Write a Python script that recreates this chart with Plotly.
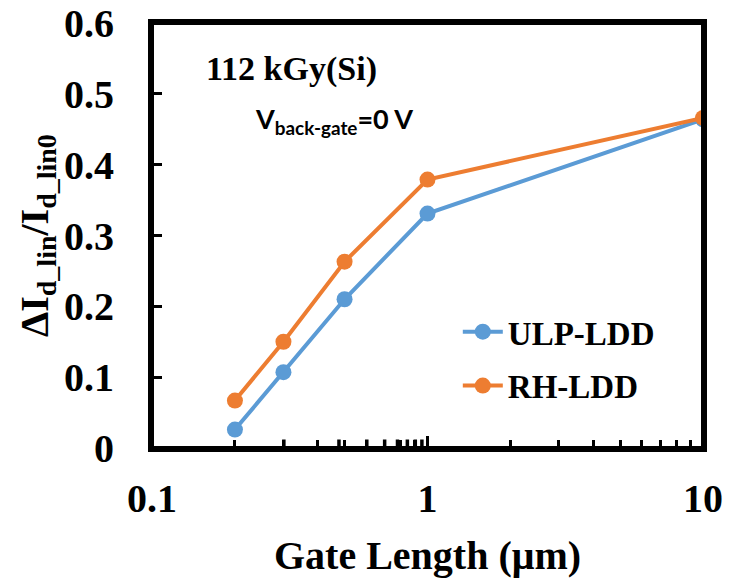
import math
import plotly.graph_objects as go

gate_length = [0.2, 0.3, 0.5, 1, 10]
ulp_ldd = [0.026, 0.107, 0.210, 0.331, 0.464]
rh_ldd = [0.067, 0.150, 0.263, 0.379, 0.466]
x_ticks = [0.1, 1, 10]
x_tick_text = ["0.1", "1", "10"]
x_minor = [0.2, 0.3, 0.4, 0.5, 0.6, 0.7, 0.8, 0.9, 2, 3, 4, 5, 6, 7, 8, 9]
y_ticks = [0, 0.1, 0.2, 0.3, 0.4, 0.5, 0.6]
y_tick_text = ["0", "0.1", "0.2", "0.3", "0.4", "0.5", "0.6"]

BLUE = "#5B9BD5"
ORANGE = "#ED7D31"
SERIF = "Liberation Serif"

fig = go.Figure()
fig.add_trace(go.Scatter(x=gate_length, y=ulp_ldd, name="ULP-LDD", mode="lines+markers",
                         line=dict(color=BLUE, width=4), marker=dict(color=BLUE, size=16),
                         legendgroup="a"))
fig.add_trace(go.Scatter(x=gate_length, y=rh_ldd, name="RH-LDD", mode="lines+markers",
                         line=dict(color=ORANGE, width=4), marker=dict(color=ORANGE, size=16),
                         legendgroup="b"))

axis_common = dict(showline=True, linecolor="black", linewidth=4, mirror=True,
                   showgrid=False, zeroline=False, ticks="inside", tickcolor="black",
                   layer="above traces", automargin=False,
                   tickfont=dict(family=SERIF, size=40, color="black", weight="bold"))

fig.update_xaxes(type="log", range=[-1, 1], tickvals=x_ticks, ticktext=x_tick_text,
                 ticklen=12, tickwidth=3,
                 minor=dict(tickvals=x_minor, ticks="inside", ticklen=8, tickwidth=3, tickcolor="black"),
                 title=dict(text="<b>Gate Length (μm)</b>", font=dict(family=SERIF, size=40, color="black")),
                 ticklabelstandoff=12,
                 **axis_common)
fig.update_yaxes(range=[0, 0.6], tickvals=y_ticks, ticktext=y_tick_text,
                 ticklen=10, tickwidth=3,
                 title=dict(text="<b>ΔI<sub>d_lin</sub>/I<sub>d_lin0</sub></b>",
                            font=dict(family=SERIF, size=40, color="black")),
                 ticklabelstandoff=26,
                 **axis_common)

# heavy tick marks and frame, placed through the axes' own scales
tick_style = dict(color="black", width=3.5)
for v in x_ticks[1:-1]:
    fig.add_shape(type="line", xref="x", yref="paper", x0=math.log10(v), x1=math.log10(v),
                  y0=0, y1=0.03, line=tick_style, layer="above")
for v in x_minor:
    fig.add_shape(type="line", xref="x", yref="paper", x0=math.log10(v), x1=math.log10(v),
                  y0=0, y1=0.02, line=tick_style, layer="above")
for v in y_ticks[1:-1]:
    fig.add_shape(type="line", xref="x", yref="y", x0=-1, x1=-0.965,
                  y0=v, y1=v, line=tick_style, layer="above")
fig.add_shape(type="rect", xref="paper", yref="paper", x0=0, y0=0, x1=1, y1=1,
              line=dict(color="black", width=4), layer="above")

fig.add_annotation(xref="paper", yref="paper", x=0.254, y=0.892, xanchor="center", yanchor="middle",
                   text="<b>112 kGy(Si)</b>", showarrow=False,
                   font=dict(family=SERIF, size=34, color="black"))
fig.add_annotation(xref="paper", yref="paper", x=0.33, y=0.77, xanchor="center", yanchor="middle",
                   text="<b>V<sub>back-gate</sub>=0 V</b>", showarrow=False,
                   font=dict(family="Lato", size=27, color="black"))

fig.update_layout(
    template="none",
    width=736, height=578,
    margin=dict(l=152, r=33, t=23, b=130),
    paper_bgcolor="white", plot_bgcolor="white",
    showlegend=True,
    legend=dict(x=0.555, y=0.21, xanchor="left", yanchor="middle",
                font=dict(family=SERIF, size=33, color="black", weight="bold"),
                bgcolor="rgba(0,0,0,0)", tracegroupgap=8, itemwidth=40),
)

fig.write_html("out.html")
